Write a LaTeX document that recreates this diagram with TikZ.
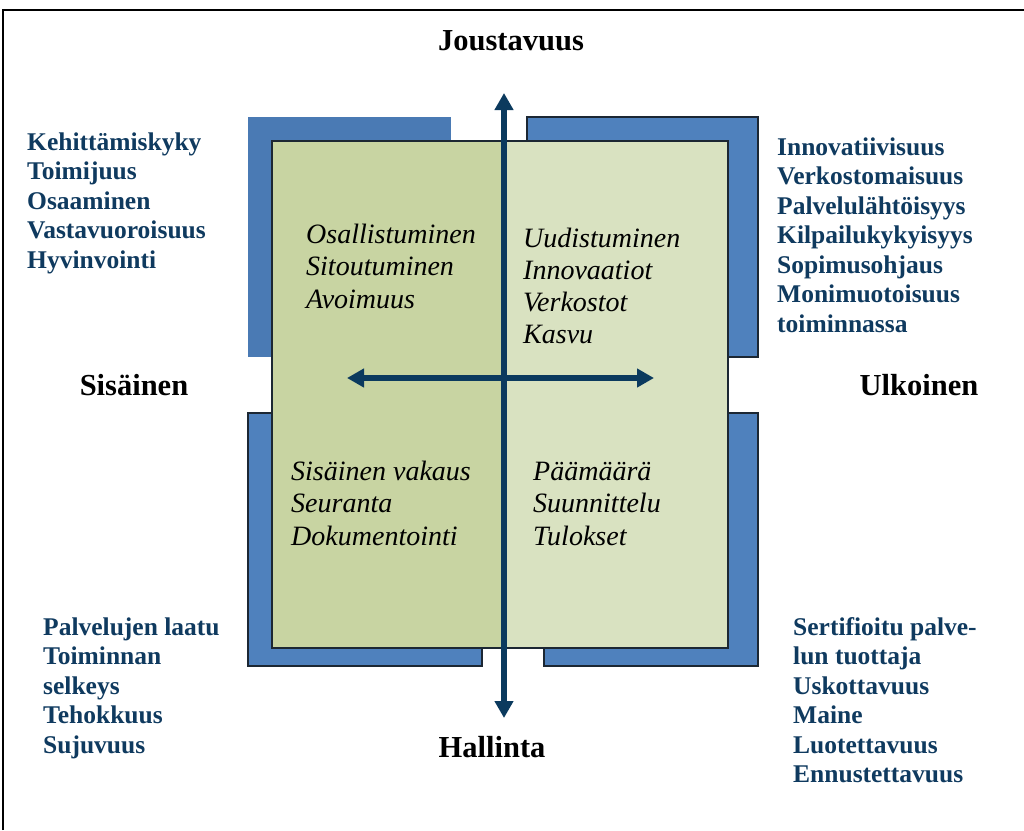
\documentclass[tikz,border=0pt]{standalone}
\usepackage{fontspec}
\setmainfont{Liberation Serif}
\usetikzlibrary{arrows.meta}

\definecolor{boxblue}{HTML}{4F81BD}
\definecolor{boxbluedark}{HTML}{4A7AB4}
\definecolor{edgedark}{HTML}{1C2733}
\definecolor{greenleft}{HTML}{C8D4A2}
\definecolor{greenright}{HTML}{D9E2C1}
\definecolor{axisnavy}{HTML}{0B3A5E}
\definecolor{listnavy}{HTML}{0F3A5F}

\tikzset{
  backpanel/.style={fill=boxblue, draw=edgedark, line width=1.2pt},
  axisline/.style={draw=axisnavy, line width=5.5pt,
    {Triangle[length=17pt,width=18pt]}-{Triangle[length=17pt,width=18pt]}},
  sidelist/.style={anchor=base west, inner sep=0pt, text=listnavy,
    font=\bfseries\fontsize{25.5}{29.5}\selectfont},
  quadtext/.style={anchor=base west, inner sep=0pt, text=black,
    font=\itshape\fontsize{28}{32.5}\selectfont},
  axislabel/.style={anchor=base, inner sep=0pt, text=black,
    font=\bfseries\fontsize{30.5}{34}\selectfont},
}
\newcommand{\stacklines}[1]{\begin{tabular}[t]{@{}l@{}}#1\end{tabular}}

\begin{document}
\begin{tikzpicture}[x=1pt, y=-1pt]
  \useasboundingbox (0,0) rectangle (1024,830);

  % outer frame (left and top edges)
  \draw[line width=1.5pt, black] (3,830) -- (3,10) -- (1024,10);

  % blue panels behind the quadrants
  \fill[boxbluedark] (248,117) rectangle (451,357);
  \draw[backpanel] (527,117) rectangle (758,357);
  \draw[backpanel] (248,413) rectangle (482,666);
  \draw[backpanel] (544,413) rectangle (758,666);

  % green field, two halves
  \fill[greenleft]  (272,141) rectangle (504,648);
  \fill[greenright] (504,141) rectangle (728,648);
  \draw[edgedark, line width=1.2pt] (272,141) rectangle (728,648);

  % axes
  \coordinate (vtop) at (504,93);
  \coordinate (vbot) at (504,718);
  \coordinate (hleft) at (347,378);
  \coordinate (hright) at (654,378);
  \draw[axisline] (vbot) -- (vtop);
  \draw[axisline] (hleft) -- (hright);

  % axis labels
  \node[axislabel] (flex)  at (511,50)  {Joustavuus};
  \node[axislabel] (ctrl)  at (492,757) {Hallinta};
  \node[axislabel] (inner) at (134,395) {Sisäinen};
  \node[axislabel] (outer) at (919,395) {Ulkoinen};

  % quadrant contents
  \node[quadtext] (qtl) at (306,243) {\stacklines{Osallistuminen\\Sitoutuminen\\Avoimuus}};
  \node[quadtext, font=\itshape\fontsize{28}{32}\selectfont] (qtr) at (523,247)
    {\stacklines{Uudistuminen\\Innovaatiot\\Verkostot\\Kasvu}};
  \node[quadtext] (qbl) at (291,480) {\stacklines{Sisäinen vakaus\\Seuranta\\Dokumentointi}};
  \node[quadtext] (qbr) at (533,480) {\stacklines{Päämäärä\\Suunnittelu\\Tulokset}};

  % side lists
  \node[sidelist] (ltop) at (27,150)
    {\stacklines{Kehittämiskyky\\Toimijuus\\Osaaminen\\Vastavuoroisuus\\Hyvinvointi}};
  \node[sidelist] (rtop) at (777,155)
    {\stacklines{Innovatiivisuus\\Verkostomaisuus\\Palvelulähtöisyys\\Kilpailukykyisyys\\Sopimusohjaus\\Monimuotoisuus\\toiminnassa}};
  \node[sidelist] (lbot) at (43,635)
    {\stacklines{Palvelujen laatu\\Toiminnan\\selkeys\\Tehokkuus\\Sujuvuus}};
  \node[sidelist] (rbot) at (793,635)
    {\stacklines{Sertifioitu palve-\\lun tuottaja\\Uskottavuus\\Maine\\Luotettavuus\\Ennustettavuus}};
\end{tikzpicture}
\end{document}
